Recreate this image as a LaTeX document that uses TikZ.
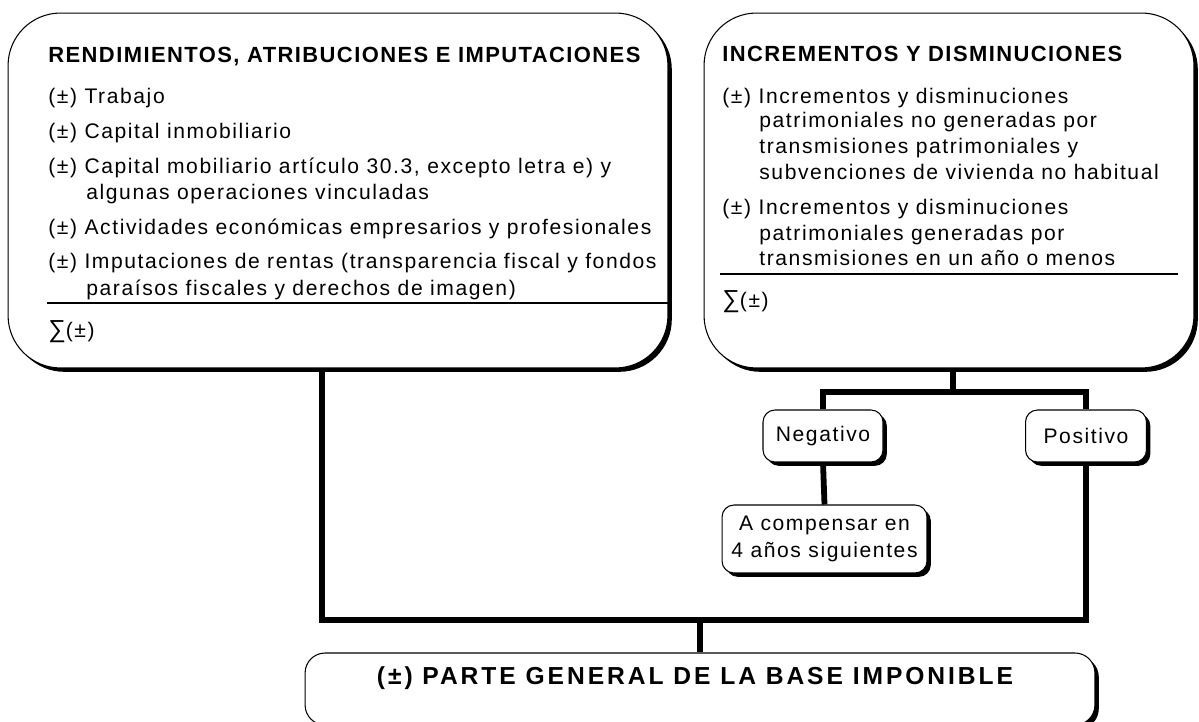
\documentclass[tikz,border=0pt]{standalone}
\usepackage{fontspec}
\setmainfont{Liberation Sans}
\newfontfamily\textoizq[LetterSpace=7.5]{Liberation Sans}
\newfontfamily\textoder[LetterSpace=7.5]{Liberation Sans}
\newfontfamily\titulo[LetterSpace=6.5]{Liberation Sans}
\newfontfamily\textobase[LetterSpace=12]{Liberation Sans}
\usetikzlibrary{positioning,shadows}

\tikzset{
  caja/.style={draw,fill=white,rounded corners=#1,line width=0.6pt,
    drop shadow={fill=black,opacity=1,shadow xshift=2.2pt,shadow yshift=-2.2pt}},
  linea/.style={anchor=base west,inner sep=0pt},
  conector/.style={line width=3.3pt}
}
\newcommand{\suma}{{\fontsize{14}{14}\selectfont ∑}}

\begin{document}
\begin{tikzpicture}[x=0.02cm,y=-0.02cm]
   \useasboundingbox (0,0) rectangle (1199,722);
   % cajas grandes
   \node[caja=1.05cm,minimum width=13.2cm,minimum height=7.1cm] (rendim) at (338,190.5) {};
   \node[caja=1.05cm,minimum width=9.8cm,minimum height=7.1cm] (increm) at (949,190.5) {};
   % rendimientos
   \node[linea,font=\titulo\bfseries\fontsize{12.5}{14}\selectfont] (rtit) at (48,63) {RENDIMIENTOS, ATRIBUCIONES E IMPUTACIONES};
   \begin{scope}[font=\textoizq\fontsize{12}{14}\selectfont]
   \node[linea] (r1) at (48,104) {(±) Trabajo};
   \node[linea] (r2) at (48,139) {(±) Capital inmobiliario};
   \node[linea] (r3) at (48,174) {(±) Capital mobiliario artículo 30.3, excepto letra e) y};
   \node[linea] (r3b) at (86,200) {algunas operaciones vinculadas};
   \node[linea] (r4) at (48,235) {(±) Actividades económicas empresarios y profesionales};
   \node[linea] (r5) at (48,269) {(±) Imputaciones de rentas (transparencia fiscal y fondos};
   \node[linea] (r5b) at (86,296) {paraísos fiscales y derechos de imagen)};
   \node[linea] (rsum) at (48,338) {\suma(±)};
   \end{scope}
   \draw[line width=1.2pt] (47,303) -- (rendim.east |- 0,303);
   % incrementos
   \node[linea,font=\titulo\bfseries\fontsize{12.5}{14}\selectfont] (itit) at (722,62) {INCREMENTOS Y DISMINUCIONES};
   \begin{scope}[font=\textoder\fontsize{12}{14}\selectfont]
   \node[linea] (i1) at (722,104) {(±) Incrementos y disminuciones};
   \node[linea] (i1b) at (759,128) {patrimoniales no generadas por};
   \node[linea] (i1c) at (759,154) {transmisiones patrimoniales y};
   \node[linea] (i1d) at (759,180) {subvenciones de vivienda no habitual};
   \node[linea] (i2) at (722,215) {(±) Incrementos y disminuciones};
   \node[linea] (i2b) at (759,241) {patrimoniales generadas por};
   \node[linea] (i2c) at (759,266) {transmisiones en un año o menos};
   \node[linea] (isum) at (722,308) {\suma(±)};
   \end{scope}
   \draw[line width=0.6pt] (720,274) -- (1178,274);
   % ramas
   \node[caja=0.24cm,minimum width=2.4cm,minimum height=1.04cm,
     font=\textoder\fontsize{12}{14}\selectfont] (neg) at (823,436) {Negativo};
   \node[caja=0.24cm,minimum width=2.42cm,minimum height=1.04cm,
     font=\textoder\fontsize{12}{14}\selectfont] (pos) at (1086,436) {Positivo};
   \node[caja=0.24cm,minimum width=4.1cm,minimum height=1.36cm,align=center,
     font=\textoder\fontsize{12}{15}\selectfont] (comp) at (824.5,539) {A compensar en\\4 años siguientes};
   \node[caja=0.4cm,minimum width=15.8cm,minimum height=1.44cm] (base) at (700,689) {};
   \node[font=\textobase\bfseries\fontsize{14}{16}\selectfont] (btxt) at (695,678) {(±) PARTE GENERAL DE LA BASE IMPONIBLE};
   \coordinate (ramaI) at (953,392);
   \coordinate (ramaB) at (322,620);
   \draw[conector] (increm.south -| ramaI) -- (ramaI);
   \draw[conector] (neg.north) |- (pos.north |- ramaI) -- (pos.north);
   \draw[conector] (neg.south) -- (comp.north);
   \draw[conector] (rendim.south -| ramaB) |- (pos.south |- ramaB) -- (pos.south);
   \draw[conector] (base.north) -- (base.north |- ramaB);
\end{tikzpicture}
\end{document}
